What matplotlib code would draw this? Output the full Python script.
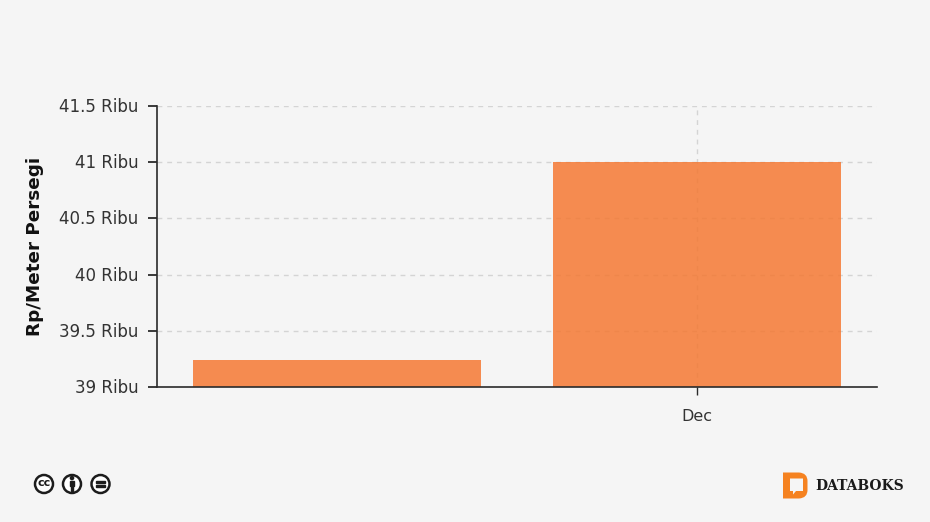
import matplotlib
matplotlib.use('Agg')
import matplotlib.pyplot as plt
from matplotlib.patches import Circle, Rectangle, PathPatch, Polygon
from matplotlib.path import Path
from matplotlib.transforms import ScaledTranslation

categories = ['', 'Dec']
values = [39.24, 41.0]
y_ticks = [39, 39.5, 40, 40.5, 41, 41.5]
y_labels = ['39 Ribu', '39.5 Ribu', '40 Ribu', '40.5 Ribu', '41 Ribu', '41.5 Ribu']

W, H = 930, 522
BG = '#f5f5f5'
ORANGE = '#f57933'
DARK = '#2b2b2b'

plt.rcParams['font.family'] = 'DejaVu Sans'
fig = plt.figure(figsize=(W / 100, H / 100), dpi=100, facecolor=BG)

# axes box in pixels: x 157-877, y 106-387
ax = fig.add_axes([157 / W, 1 - 387 / H, 720 / W, 281 / H], facecolor=BG)
x = list(range(len(categories)))

ax.set_axisbelow(True)
ax.yaxis.grid(True, color='#d4d4d4', linestyle=(0, (3.5, 3.5)), linewidth=1)
ax.plot([1, 1], [39, 41.5], color='#d4d4d4', linestyle=(0, (3.5, 3.5)), linewidth=1, zorder=0.5)
ax.bar(x, values, width=0.8, color=ORANGE, alpha=0.85, linewidth=0, zorder=2)

ax.set_xlim(-0.5, 1.5)
ax.set_ylim(39, 41.5)
ax.set_xticks([1])
ax.set_xticklabels(['Dec'], fontsize=11.5, color='#333333')
ax.set_yticks(y_ticks)
ax.set_yticklabels(y_labels, fontsize=12, color='#333333')
ax.tick_params(axis='y', length=6.5, width=1.3, color=DARK, pad=7)
ax.tick_params(axis='x', length=5.5, width=1, color=DARK, pad=10.5)

# labels sit about a pixel higher in the original
nudge = ScaledTranslation(0, 1 / 100, fig.dpi_scale_trans)
for lab in ax.get_yticklabels():
    lab.set_transform(lab.get_transform() + nudge)

for side in ['top', 'right']:
    ax.spines[side].set_visible(False)
for side in ['left', 'bottom']:
    ax.spines[side].set_color(DARK)
    ax.spines[side].set_linewidth(1.2)

fig.text(35 / W, 1 - 246 / H, 'Rp/Meter Persegi', rotation=90, fontsize=13.2, fontweight='bold',
         color='#111111', ha='center', va='center')

# overlay in pixel coords for the footer marks
ov = fig.add_axes([0, 0, 1, 1], facecolor='none')
ov.set_xlim(0, W)
ov.set_ylim(H, 0)
ov.axis('off')

for cx in [44, 72, 100.5]:
    ov.add_patch(Circle((cx, 484), 9, facecolor='white', edgecolor='#1c1c1c', linewidth=1.8))
ov.text(44, 483.5, 'cc', fontsize=8, fontweight='bold', ha='center', va='center', color='#1c1c1c')
ov.add_patch(Circle((72, 478), 1.6, color='#1c1c1c'))
ov.add_patch(Polygon([(69.6, 480.5), (74.4, 480.5), (74.4, 486), (73.3, 486), (73.3, 490.5),
                      (70.7, 490.5), (70.7, 486), (69.6, 486)], closed=True, color='#1c1c1c'))
ov.add_patch(Rectangle((96, 480.8), 9, 2, color='#1c1c1c'))
ov.add_patch(Rectangle((96, 485.2), 9, 2, color='#1c1c1c'))

# databoks logo
d_verts = [(783, 472.5), (799, 472.5), (807.5, 473), (807.5, 481), (807.5, 490), (807.5, 498),
           (799, 498.5), (783, 498.5), (783, 472.5)]
d_codes = [Path.MOVETO, Path.LINETO, Path.CURVE3, Path.CURVE3, Path.LINETO, Path.CURVE3, Path.CURVE3,
           Path.LINETO, Path.CLOSEPOLY]
ov.add_patch(PathPatch(Path(d_verts, d_codes), facecolor='#f58220', edgecolor='none'))
ov.add_patch(Polygon([(790, 478.5), (803, 478.5), (803, 491), (796, 491), (793, 494.5), (793, 491),
                      (790, 491)], closed=True, facecolor=BG, edgecolor='none'))
ov.text(815, 485.5, 'DATABOKS', family='DejaVu Serif', fontsize=10, fontweight='bold',
        color='#1a1a1a', ha='left', va='center')

fig.savefig('out.png', dpi=100, facecolor=BG)
plt.close(fig)
